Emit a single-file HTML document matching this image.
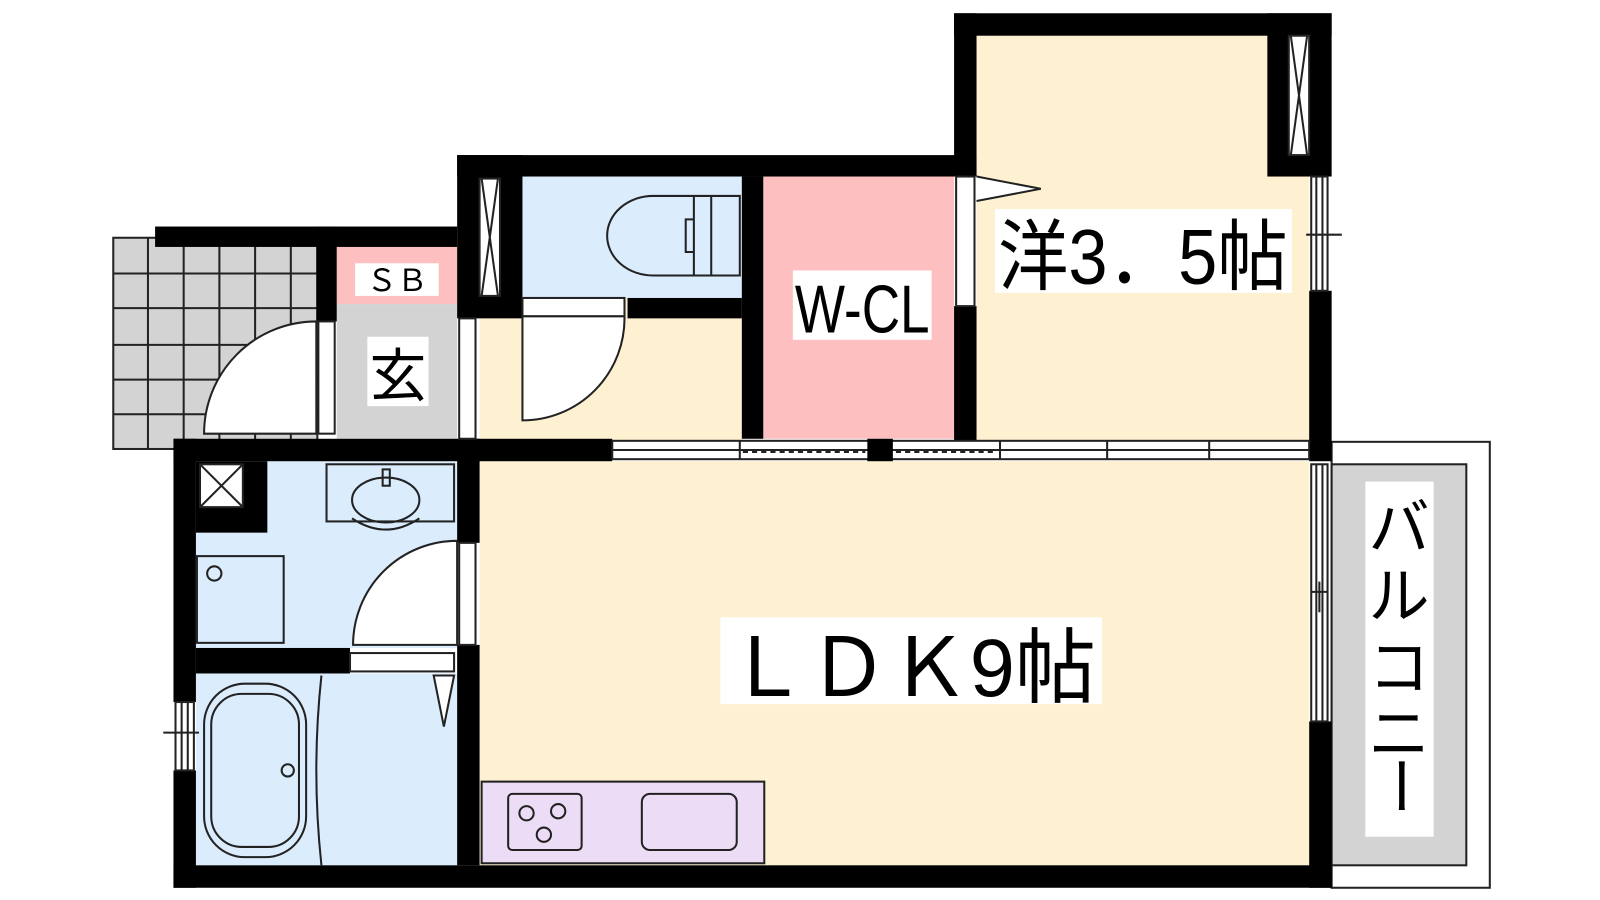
<!DOCTYPE html>
<html><head><meta charset="utf-8"><style>html,body{margin:0;padding:0;background:#fff}svg{display:block}</style></head>
<body>
<svg width="1600" height="900" viewBox="0 0 1568 882" xmlns="http://www.w3.org/2000/svg" font-family="Liberation Sans, Noto Sans CJK JP, sans-serif">
<g stroke="#222" stroke-width="2" fill="#d3d3d3">
<rect x="111" y="233" width="200" height="207"/>
<path d="M145 233V440M180 233V440M215 233V440M250 233V440M285 233V440M111 268H311M111 302H311M111 338H311M111 372H311M111 406H311" fill="none"/>
</g>
<rect x="957" y="35" width="326" height="400" fill="#fef1d2"/>
<rect x="748" y="173" width="187" height="257" fill="#fdbfbf"/>
<rect x="490" y="173" width="237" height="119" fill="#dbecfd"/>
<rect x="470" y="292" width="257" height="140" fill="#fef1d2"/>
<rect x="330" y="242" width="118" height="56" fill="#fdbfbf"/>
<rect x="330" y="298" width="118" height="132" fill="#d3d3d3"/>
<rect x="192" y="452" width="256" height="183" fill="#dbecfd"/>
<rect x="192" y="660" width="256" height="188" fill="#dbecfd"/>
<rect x="470" y="452" width="813" height="396" fill="#fef1d2"/>
<rect x="472" y="766" width="277" height="80" fill="#ecdcf5" stroke="#222" stroke-width="2"/>
<rect x="1305" y="433" width="155" height="437" fill="#fff" stroke="#222" stroke-width="2"/>
<rect x="1305" y="455" width="132" height="393" fill="#d3d3d3" stroke="#222" stroke-width="2"/>
<g fill="#000">
<rect x="935" y="13" width="370" height="22"/>
<rect x="935" y="13" width="22" height="160"/>
<rect x="935" y="300" width="22" height="132"/>
<rect x="1242" y="13" width="63" height="160"/>
<rect x="1283" y="285" width="22" height="167"/>
<rect x="1283" y="707" width="22" height="163"/>
<rect x="448" y="152" width="509" height="21"/>
<rect x="727" y="173" width="21" height="257"/>
<rect x="448" y="152" width="64" height="160"/>
<rect x="615" y="292" width="112" height="20"/>
<rect x="152" y="222" width="296" height="20"/>
<rect x="310" y="222" width="20" height="93"/>
<rect x="170" y="430" width="430" height="22"/>
<rect x="170" y="430" width="22" height="258"/>
<rect x="170" y="755" width="22" height="115"/>
<rect x="170" y="848" width="1135" height="22"/>
<rect x="448" y="430" width="22" height="102"/>
<rect x="448" y="632" width="22" height="216"/>
<rect x="192" y="635" width="151" height="25"/>
<rect x="192" y="452" width="70" height="70"/>
</g>
<g fill="#fff" stroke="#222" stroke-width="2">
<rect x="470" y="175" width="20" height="115"/>
<path d="M472 175L488 290M488 175L472 290" fill="none"/>
<rect x="1263" y="35" width="20" height="117"/>
<path d="M1265 35L1281 152M1281 35L1265 152" fill="none"/>
<rect x="196" y="455" width="42" height="42"/>
<path d="M196 455L238 497M238 455L196 497" fill="none"/>
<rect x="1285" y="173" width="16" height="112"/>
<path d="M1290 173V285M1296 173V285M1280 230H1315" fill="none"/>
<rect x="1285" y="455" width="16" height="252"/>
<path d="M1290 455V707M1296 455V707M1285 580H1300M1293 570V600" fill="none"/>
<rect x="172" y="688" width="18" height="67"/>
<path d="M178 688V755M184 688V755M160 718H195" fill="none"/>
<rect x="937" y="173" width="18" height="127"/>
<path d="M957 173L1020 185L957 197"/>
<rect x="312" y="315" width="16" height="110"/>
<rect x="450" y="312" width="16" height="118"/>
<rect x="512" y="292" width="100" height="18"/>
<rect x="450" y="532" width="16" height="100"/>
<rect x="343" y="640" width="102" height="18"/>
<path d="M425 662L445 662L435 712Z"/>
<path d="M310 425L200 425A110 110 0 0 1 310 315Z"/>
<path d="M512 310L512 412A100 100 0 0 0 612 310Z"/>
<path d="M448 632L346 632A102 102 0 0 1 448 530Z"/>
<rect x="600" y="432" width="683" height="18"/>
<path d="M600 441H1283M725 432V450M980 432V450M1085 432V450M1185 432V450M1180 441H1195" fill="none"/>
</g>
<path d="M728 443H848M878 443H976" stroke="#222" stroke-width="2" stroke-dasharray="5 4"/>
<rect x="850" y="430" width="25" height="22" fill="#000"/>
<g fill="none" stroke="#222" stroke-width="2">
<path d="M640 192H725V270H640A45 39 0 0 1 640 192Z"/>
<path d="M680 192V270M697 192V270M672 215H680V247H672Z"/>
<rect x="320" y="455" width="125" height="56"/>
<ellipse cx="378" cy="490" rx="33" ry="22"/>
<path d="M345 508Q378 530 411 508"/>
<rect x="375" y="460" width="7" height="16"/>
<rect x="193" y="545" width="85" height="85"/>
<circle cx="210" cy="562" r="7"/>
<rect x="200" y="670" width="100" height="170" rx="40"/>
<rect x="207" y="680" width="86" height="150" rx="30"/>
<circle cx="282" cy="755" r="6"/>
<path d="M315 662Q305 755 315 848"/>
<rect x="498" y="778" width="72" height="55" rx="4"/>
<circle cx="516" cy="797" r="7"/><circle cx="547" cy="795" r="7"/><circle cx="533" cy="818" r="7"/>
<rect x="629" y="778" width="93" height="55" rx="8"/>
</g>
<rect x="348" y="258" width="82" height="32" fill="#fff"/>
<text x="389" y="285" font-size="30" text-anchor="middle">ＳＢ</text>
<rect x="360" y="330" width="60" height="68" fill="#fff"/>
<text x="390" y="388" font-size="56" text-anchor="middle">玄</text>
<rect x="777" y="265" width="136" height="68" fill="#fff"/>
<text x="779" y="326" font-size="66" textLength="132" lengthAdjust="spacingAndGlyphs">W-CL</text>
<rect x="975" y="205" width="291" height="82" fill="#fff"/>
<text x="978" y="278" font-size="76" textLength="284" lengthAdjust="spacingAndGlyphs">洋3．5帖</text>
<rect x="706" y="605" width="374" height="85" fill="#fff"/>
<text x="712" y="682" font-size="80" textLength="362" lengthAdjust="spacingAndGlyphs">ＬＤＫ9帖</text>
<rect x="1338" y="472" width="67" height="348" fill="#fff"/>
<g font-size="60" text-anchor="middle">
<text x="1371" y="538">バ</text>
<text x="1371" y="605">ル</text>
<text x="1371" y="675">コ</text>
<text x="1371" y="740">ニ</text>
<text x="1371" y="790" transform="rotate(90 1371 770)">ー</text>
</g>
</svg>
</body></html>
